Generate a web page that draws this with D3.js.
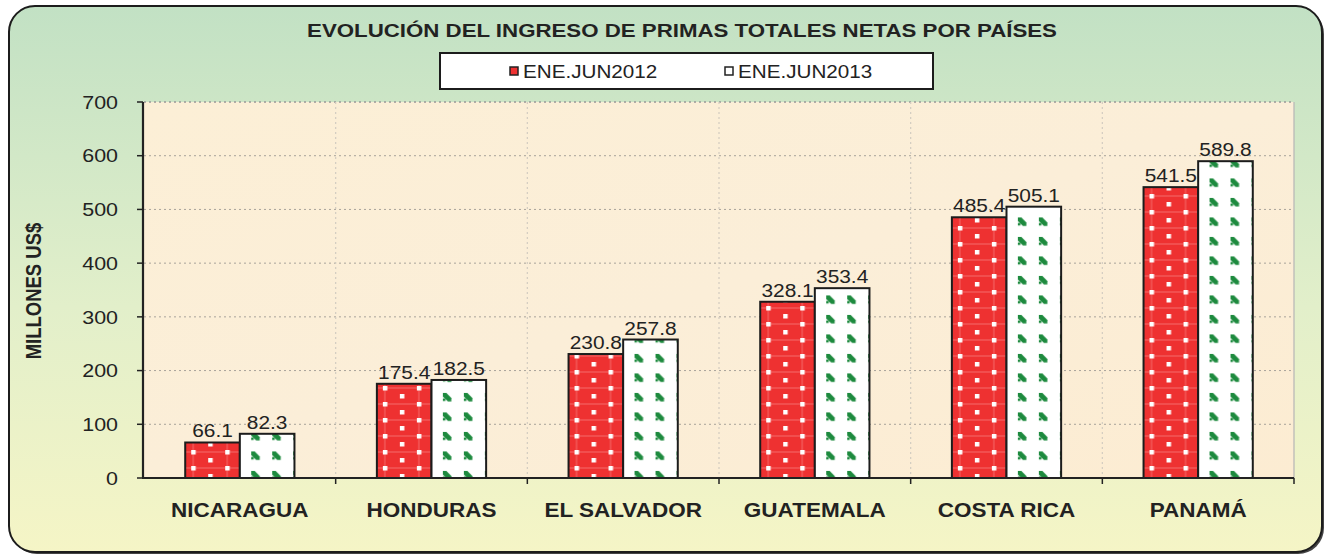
<!DOCTYPE html>
<html>
<head>
<meta charset="utf-8">
<script src="https://cdn.jsdelivr.net/npm/d3@7.8.5/dist/d3.min.js"></script>
<style>
  html, body { margin: 0; padding: 0; background: #ffffff; }
  svg { display: block; font-family: 'Liberation Sans', Arial, sans-serif; }
</style>
</head>
<body>
<svg id="chart" width="1330" height="556"></svg>
<script>
const title = 'EVOLUCIÓN DEL INGRESO DE PRIMAS TOTALES NETAS POR PAÍSES';
const countries = ['NICARAGUA', 'HONDURAS', 'EL SALVADOR', 'GUATEMALA', 'COSTA RICA', 'PANAMÁ'];
const seriesNames = ['ENE.JUN2012', 'ENE.JUN2013'];
const values2012 = [66.1, 175.4, 230.8, 328.1, 485.4, 541.5];
const values2013 = [82.3, 182.5, 257.8, 353.4, 505.1, 589.8];
const yTicks = [0, 100, 200, 300, 400, 500, 600, 700];
const yLabel = 'MILLONES US$';

// the source picture is stretched sideways, so text gets the same stretch
const SX = 1.16;
const plot = { left: 144, right: 1294, top: 102, bottom: 478 };

const svg = d3.select('#chart');
const defs = svg.append('defs');

// background of the frame
const bg = defs.append('linearGradient').attr('id', 'bgGrad')
    .attr('x1', 0).attr('y1', 0).attr('x2', 0).attr('y2', 1);
bg.append('stop').attr('offset', '0%').attr('stop-color', '#c2e1c4');
bg.append('stop').attr('offset', '55%').attr('stop-color', '#e2efca');
bg.append('stop').attr('offset', '100%').attr('stop-color', '#f5f5c6');

const pbg = defs.append('linearGradient').attr('id', 'plotGrad')
    .attr('x1', 0).attr('y1', 0).attr('x2', 1).attr('y2', 1);
pbg.append('stop').attr('offset', '0%').attr('stop-color', '#fcefd6');
pbg.append('stop').attr('offset', '50%').attr('stop-color', '#fbeed8');
pbg.append('stop').attr('offset', '100%').attr('stop-color', '#fcecd2');

// red bars: light grid with white dots
const redPat = defs.append('pattern').attr('id', 'redPat')
    .attr('patternUnits', 'userSpaceOnUse')
    .attr('width', 34).attr('height', 16);
redPat.append('rect').attr('width', 34).attr('height', 16).attr('fill', '#ee3131');
redPat.append('rect').attr('x', 0).attr('y', 3.5).attr('width', 34).attr('height', 1).attr('fill', '#f46a6a');
redPat.append('rect').attr('x', 7.5).attr('y', 0).attr('width', 1).attr('height', 16).attr('fill', '#f46a6a');
redPat.append('rect').attr('x', 6).attr('y', 2).attr('width', 4.5).attr('height', 4.5).attr('fill', '#ffffff');
redPat.append('rect').attr('x', 23).attr('y', 10).attr('width', 4.5).attr('height', 4.5).attr('fill', '#ffffff');

// white bars: green small diagonal marks
const greenPat = defs.append('pattern').attr('id', 'greenPat')
    .attr('patternUnits', 'userSpaceOnUse')
    .attr('width', 21).attr('height', 19.5);
greenPat.append('rect').attr('width', 21).attr('height', 19.5).attr('fill', '#ffffff');
greenPat.append('path')
    .attr('d', 'M3,3 h3.5 l5,5 v3.5 h-3.5 l-5,-5 z')
    .attr('fill', '#1d8a3e');
greenPat.append('rect').attr('x', 3).attr('y', 8.5).attr('width', 2.5).attr('height', 2.5).attr('fill', '#1d8a3e');

// frame
svg.append('rect')
    .attr('x', 11).attr('y', 8).attr('width', 1313).attr('height', 546)
    .attr('rx', 26).attr('fill', '#444');
svg.append('rect')
    .attr('x', 9).attr('y', 6).attr('width', 1313).attr('height', 546)
    .attr('rx', 26).attr('fill', 'url(#bgGrad)')
    .attr('stroke', '#1c1c1c').attr('stroke-width', 2);

function stretchedText(g, x, y) {
    return g.append('text').attr('transform', `translate(${x},${y}) scale(${SX},1)`);
}

// title
stretchedText(svg, 682, 37)
    .attr('text-anchor', 'middle')
    .style('font-size', '19.2px')
    .style('font-weight', 'bold')
    .attr('fill', '#222')
    .text(title);

// legend
svg.append('rect')
    .attr('x', 440).attr('y', 53).attr('width', 493).attr('height', 36)
    .attr('fill', '#ffffff').attr('stroke', '#1c1c1c').attr('stroke-width', 2);
const legendX = [510, 725];
const legendFill = ['#ee3131', '#ffffff'];
seriesNames.forEach((name, i) => {
    svg.append('rect')
        .attr('x', legendX[i]).attr('y', 67).attr('width', 8).attr('height', 8)
        .attr('fill', legendFill[i]).attr('stroke', '#222').attr('stroke-width', 1.5);
    stretchedText(svg, legendX[i] + 13, 78)
        .style('font-size', '17.8px')
        .attr('fill', '#222')
        .text(name);
});

// scales
const y = d3.scaleLinear().domain([0, 700]).range([plot.bottom, plot.top]);
const x0 = d3.scaleBand().domain(countries).range([plot.left, plot.right])
    .paddingInner(0.43).paddingOuter(0.215);
const x1 = d3.scaleBand().domain(seriesNames).range([0, x0.bandwidth()]);
const step = x0.step();

// plot area
svg.append('rect')
    .attr('x', plot.left).attr('y', plot.top)
    .attr('width', plot.right - plot.left).attr('height', plot.bottom - plot.top)
    .attr('fill', 'url(#plotGrad)');

// grid lines
svg.append('g').selectAll('line')
    .data(yTicks.filter(d => d > 0))
    .enter().append('line')
    .attr('x1', plot.left).attr('x2', plot.right)
    .attr('y1', d => y(d)).attr('y2', d => y(d))
    .attr('stroke', d => d === 700 ? '#999' : '#a8a39a')
    .attr('stroke-width', d => d === 700 ? 1.5 : 1)
    .attr('stroke-dasharray', '2,3');

const boundaries = countries.slice(1).map(c => x0(c) - step * x0.paddingInner() / 2);
svg.append('g').selectAll('line')
    .data(boundaries)
    .enter().append('line')
    .attr('x1', d => d).attr('x2', d => d)
    .attr('y1', plot.top).attr('y2', plot.bottom)
    .attr('stroke', '#d2ccc0').attr('stroke-width', 1.2)
    .attr('stroke-dasharray', '2,3');

svg.append('line')
    .attr('x1', plot.right).attr('x2', plot.right)
    .attr('y1', plot.top).attr('y2', plot.bottom)
    .attr('stroke', '#b5b5b5').attr('stroke-width', 1.2);

// bars
const rows = countries.map((c, i) => ({
    country: c,
    vals: [
        { series: seriesNames[0], value: values2012[i], fill: 'url(#redPat)' },
        { series: seriesNames[1], value: values2013[i], fill: 'url(#greenPat)' }
    ]
}));

const groups = svg.append('g').selectAll('g')
    .data(rows)
    .enter().append('g')
    .attr('transform', d => `translate(${x0(d.country)},0)`);

groups.selectAll('rect')
    .data(d => d.vals)
    .enter().append('rect')
    .attr('x', d => x1(d.series))
    .attr('y', d => y(d.value))
    .attr('width', x1.bandwidth())
    .attr('height', d => y(0) - y(d.value))
    .attr('fill', d => d.fill)
    .attr('stroke', '#1c1c1c')
    .attr('stroke-width', 2);

groups.selectAll('text')
    .data(d => d.vals)
    .enter().append('text')
    .attr('transform', d => `translate(${x1(d.series) + x1.bandwidth() / 2},${y(d.value) - 5}) scale(${SX},1)`)
    .attr('text-anchor', 'middle')
    .style('font-size', '18px')
    .attr('fill', '#222')
    .text(d => d.value.toFixed(1));

// axes
svg.append('line')
    .attr('x1', plot.left - 1).attr('x2', plot.left - 1)
    .attr('y1', plot.top).attr('y2', plot.bottom)
    .attr('stroke', '#222').attr('stroke-width', 2.2);
svg.append('line')
    .attr('x1', plot.left - 2).attr('x2', plot.right)
    .attr('y1', plot.bottom).attr('y2', plot.bottom)
    .attr('stroke', '#222').attr('stroke-width', 2.2);

const yAxis = svg.append('g');
yAxis.selectAll('line')
    .data(yTicks)
    .enter().append('line')
    .attr('x1', plot.left - 7).attr('x2', plot.left - 1)
    .attr('y1', d => y(d)).attr('y2', d => y(d))
    .attr('stroke', '#222').attr('stroke-width', 1.5);
yAxis.selectAll('text')
    .data(yTicks)
    .enter().append('text')
    .attr('transform', d => `translate(118,${y(d)}) scale(${SX},1)`)
    .attr('text-anchor', 'end')
    .attr('dy', '0.36em')
    .style('font-size', '18.5px')
    .attr('fill', '#222')
    .text(d => d);

const xTicks = [...boundaries, plot.right];
svg.append('g').selectAll('line')
    .data(xTicks)
    .enter().append('line')
    .attr('x1', d => d).attr('x2', d => d)
    .attr('y1', plot.bottom).attr('y2', plot.bottom + 6)
    .attr('stroke', '#222').attr('stroke-width', 1.5);

svg.append('g').selectAll('text')
    .data(countries)
    .enter().append('text')
    .attr('transform', d => `translate(${x0(d) + x0.bandwidth() / 2},517) scale(${SX},1)`)
    .attr('text-anchor', 'middle')
    .style('font-size', '19.4px')
    .style('font-weight', 'bold')
    .attr('fill', '#222')
    .text(d => d);

// y axis title
svg.append('text')
    .attr('transform', `translate(41,291) scale(${SX},1) rotate(-90)`)
    .attr('text-anchor', 'middle')
    .style('font-size', '18.5px')
    .style('font-weight', 'bold')
    .attr('fill', '#222')
    .text(yLabel);
</script>
</body>
</html>
